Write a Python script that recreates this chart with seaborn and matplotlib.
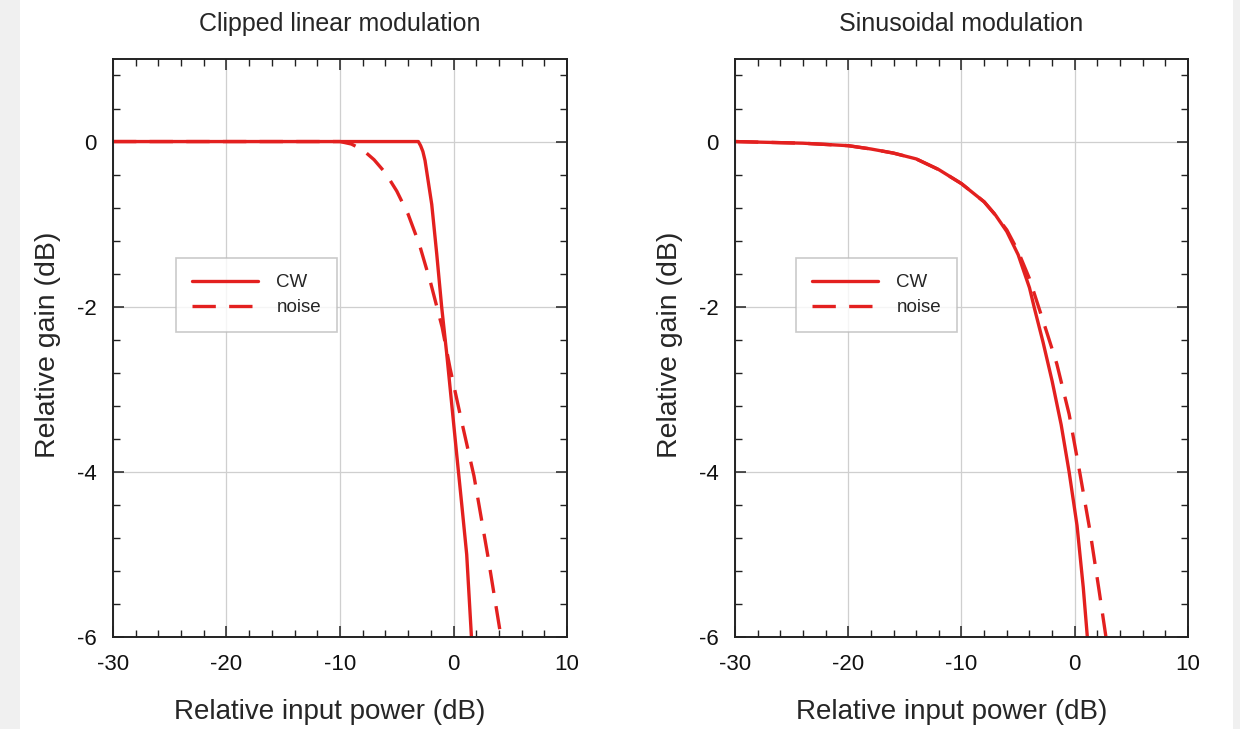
import pandas as pd
import seaborn as sns
import matplotlib.pyplot as plt
from matplotlib.ticker import MultipleLocator
from matplotlib.patches import Rectangle

# Valores (dB de entrada relativa -> ganho relativo em dB)
clip_cw_x = [-30, -10, -3.1, -2.9, -2.7, -2.51, -1.92, -1.48, -1.04, -0.6, -0.16, 0.28, 0.72, 1.16, 1.62]
clip_cw_y = [0, 0, 0, -0.05, -0.12, -0.23, -0.76, -1.36, -2.01, -2.57, -3.18, -3.79, -4.39, -5.0, -6.1]

clip_noise_x = [-30, -10, -9, -8, -7, -6, -5, -4, -3, -2, -1, -0.3, 0.7, 1.8, 3.0, 4.3]
clip_noise_y = [0, 0, -0.03, -0.1, -0.22, -0.38, -0.6, -0.88, -1.25, -1.72, -2.25, -2.75, -3.38, -4.05, -5.0, -6.1]

sin_cw_x = [-30, -27, -24, -22, -20, -18, -16, -14, -12, -10, -8, -7, -6, -5, -4, -3.56, -2.8, -2.0, -1.2, -0.5,
            0.2, 0.75, 1.17]
sin_cw_y = [0, -0.01, -0.02, -0.035, -0.05, -0.09, -0.14, -0.21, -0.34, -0.51, -0.73, -0.89, -1.09, -1.37, -1.77,
            -2.02, -2.43, -2.9, -3.43, -4.0, -4.65, -5.4, -6.1]

sin_noise_x = [-30, -27, -24, -22, -20, -18, -16, -14, -12, -10, -8, -7, -6, -5, -4, -3.2, -2.4, -1.59, -0.5,
               0.47, 1.35, 2.15, 2.86]
sin_noise_y = [0, -0.01, -0.02, -0.035, -0.05, -0.09, -0.14, -0.21, -0.34, -0.51, -0.73, -0.89, -1.07, -1.33,
               -1.66, -2.0, -2.34, -2.69, -3.3, -4.03, -4.72, -5.44, -6.1]

titulos = ["Clipped linear modulation", "Sinusoidal modulation"]
series = ["CW", "noise"]


def montar(cw_x, cw_y, nz_x, nz_y):
    a = pd.DataFrame({'x': cw_x, 'y': cw_y, 'serie': 'CW'})
    b = pd.DataFrame({'x': nz_x, 'y': nz_y, 'serie': 'noise'})
    return pd.concat([a, b], ignore_index=True)


dados = [montar(clip_cw_x, clip_cw_y, clip_noise_x, clip_noise_y),
         montar(sin_cw_x, sin_cw_y, sin_noise_x, sin_noise_y)]

sns.set_style("white")
plt.rcParams['font.family'] = ['Liberation Sans', 'DejaVu Sans']
plt.rcParams['axes.unicode_minus'] = False

vermelho = '#e3201f'
fig = plt.figure(figsize=(12.4, 7.29), dpi=100, facecolor='#f0f0f0')
fig.patches.append(Rectangle((0.016, 0.0), 0.978, 1.0, transform=fig.transFigure,
                             facecolor='white', edgecolor='none', zorder=-10))

posicoes = [[0.0911, 0.1262, 0.3662, 0.7929], [0.5927, 0.1262, 0.3654, 0.7929]]
legendas = [(0.139, 0.655), (0.135, 0.655)]

for i in range(2):
    ax = fig.add_axes(posicoes[i])
    ax.set_facecolor('white')
    sns.lineplot(data=dados[i], x='x', y='y', style='serie', style_order=series,
                 dashes={'CW': '', 'noise': (7, 4)}, color=vermelho, linewidth=2.4,
                 sort=False, ax=ax)
    ax.set_xlim(-30, 10)
    ax.set_ylim(-6, 1)
    ax.xaxis.set_major_locator(MultipleLocator(10))
    ax.xaxis.set_minor_locator(MultipleLocator(2))
    ax.set_yticks([0, -2, -4, -6])
    ax.yaxis.set_minor_locator(MultipleLocator(0.4))
    ax.grid(True, which='major', color='#cfcfcf', linewidth=0.9)
    ax.tick_params(which='both', direction='in', top=True, right=True, bottom=True, left=True,
                   color='#222222', labelsize=16, labelcolor='#111111')
    ax.tick_params(which='major', length=8, width=1.1)
    ax.tick_params(which='minor', length=5, width=1.0)
    ax.tick_params(axis='x', pad=12)
    ax.tick_params(axis='y', pad=12)
    for s in ax.spines.values():
        s.set_color('#222222')
        s.set_linewidth(1.4)
    ax.set_title(titulos[i], fontsize=18, pad=20)
    ax.set_xlabel('Relative input power (dB)', fontsize=20)
    ax.xaxis.set_label_coords(0.478, -0.107)
    ax.set_ylabel('Relative gain (dB)', fontsize=20.5)
    ax.yaxis.set_label_coords(-0.115, 0.506)
    leg = ax.legend(loc='upper left', bbox_to_anchor=legendas[i], fontsize=13.5,
                    handlelength=3.5, fancybox=False, frameon=True, borderpad=0.85,
                    handletextpad=1.0, labelspacing=0.4, borderaxespad=0)
    leg.get_frame().set_edgecolor('#bdbdbd')
    leg.get_frame().set_linewidth(1.2)
    leg.set_title(None)

fig.savefig('out.png', dpi=100, facecolor=fig.get_facecolor())
